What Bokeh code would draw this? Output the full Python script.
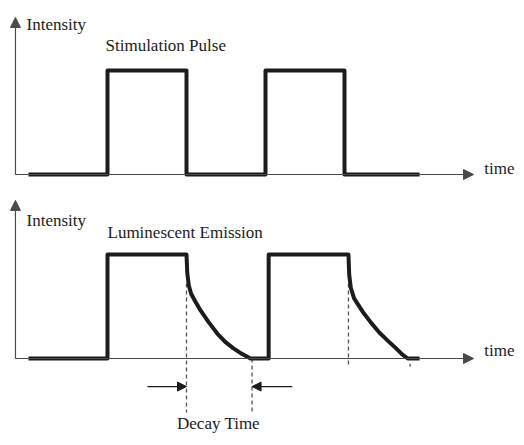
from bokeh.plotting import figure
from bokeh.layouts import column
from bokeh.models import Range1d, Arrow, NormalHead
from bokeh.core.properties import value
from bokeh.embed import file_html
from bokeh.resources import INLINE

# ---- data (time in pulse-width units, intensity normalised) ----
stim_time = [0, 1, 1, 2, 2, 3, 3, 4, 4, 4.95]
stim_intensity = [0, 0, 1, 1, 0, 0, 1, 1, 0, 0]

lum_time = [0, 1, 1, 2.0,
            2.01, 2.03, 2.06, 2.11, 2.18, 2.28, 2.39, 2.49, 2.59, 2.70, 2.81,
            3.04, 3.04, 4.05,
            4.06, 4.08, 4.12, 4.17, 4.23, 4.33, 4.44, 4.55, 4.65, 4.73, 4.80,
            4.95]
lum_intensity = [0, 0, 1, 1,
                 0.82, 0.70, 0.62, 0.55, 0.46, 0.35, 0.24, 0.16, 0.10, 0.045, 0.0,
                 0, 1, 1,
                 0.80, 0.68, 0.58, 0.52, 0.45, 0.35, 0.25, 0.17, 0.10, 0.04, 0.0,
                 0]

decay_start = 2.0
decay_end = 2.83
decay2_start = 4.05
decay2_end = 4.83

FONT = value("Liberation Serif")
INK = "#1c1c1c"
AXIS = "#4a4a4a"
DASH = "#555555"

W = 516
XR = (-28 / 79, (W - 28) / 79)


def base_fig(h, y0, y1):
    p = figure(width=W, height=h, x_range=Range1d(*XR), y_range=Range1d(y0, y1),
               x_axis_type=None, y_axis_type=None, toolbar_location=None,
               output_backend="svg", min_border=0)
    p.min_border_left = p.min_border_right = p.min_border_top = p.min_border_bottom = 0
    p.outline_line_color = None
    p.xgrid.visible = False
    p.ygrid.visible = False
    p.background_fill_color = "white"
    p.border_fill_color = "white"
    return p


def axes(p, x0, xend, ytop):
    p.add_layout(Arrow(end=NormalHead(size=10, fill_color=AXIS, line_color=AXIS),
                       x_start=x0, y_start=0, x_end=xend, y_end=0,
                       line_color=AXIS, line_width=1.2))
    p.add_layout(Arrow(end=NormalHead(size=10, fill_color=AXIS, line_color=AXIS),
                       x_start=x0, y_start=0, x_end=x0, y_end=ytop,
                       line_color=AXIS, line_width=1.2))


def label(p, x, y, txt, align="left"):
    p.text(x=[x], y=[y], text=[txt], text_font=FONT, text_font_size="17px",
           text_color=INK, text_align=align, text_baseline="middle")


# ---- top panel (image rows 0..190) ----
p1 = base_fig(190, -16 / 104, 174 / 104)
axes(p1, -0.165, 5.633, 1.51)
p1.line(stim_time, stim_intensity, line_width=4, line_color=INK, line_join="round")
label(p1, -0.025, 1.44, "Intensity")
label(p1, 0.975, 1.24, "Stimulation Pulse")
label(p1, 5.77, 0.06, "time")

# ---- bottom panel (image rows 190..437) ----
p2 = base_fig(247, -79 / 104, 168 / 104)
axes(p2, -0.165, 5.633, 1.52)
p2.segment(x0=[decay_start, decay_end, decay2_start, decay2_end],
           y0=[0.72, 0.0, 0.72, -0.05],
           x1=[decay_start, decay_end, decay2_start, decay2_end],
           y1=[-0.52, -0.52, -0.077, -0.08],
           line_color=DASH, line_width=1.3, line_dash="4 3")
p2.line(lum_time, lum_intensity, line_width=4, line_color=INK, line_join="round")
p2.add_layout(Arrow(end=NormalHead(size=9, fill_color=INK, line_color=INK),
                    x_start=1.506, y_start=-0.27, x_end=decay_start, y_end=-0.27,
                    line_color=INK, line_width=1.2))
p2.add_layout(Arrow(end=NormalHead(size=9, fill_color=INK, line_color=INK),
                    x_start=3.34, y_start=-0.27, x_end=decay_end, y_end=-0.27,
                    line_color=INK, line_width=1.2))
label(p2, -0.025, 1.33, "Intensity")
label(p2, 1.0, 1.21, "Luminescent Emission")
label(p2, 5.77, 0.08, "time")
label(p2, 2.405, -0.625, "Decay Time", align="center")

layout = column(p1, p2, spacing=0)
open("out.html", "w").write(file_html(layout, INLINE))
